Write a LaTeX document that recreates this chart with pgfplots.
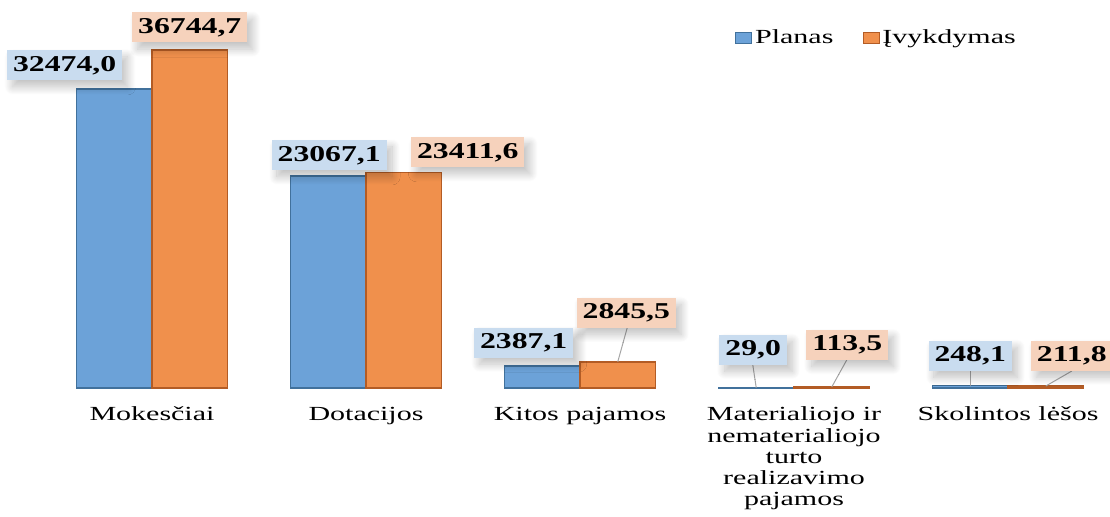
\documentclass[border=0pt]{standalone}
\usepackage{fontspec}
\setmainfont{Liberation Serif}
\newfontfamily\catfont[FakeStretch=1.5]{Liberation Serif}
\newfontfamily\lblfont[FakeStretch=1.4]{Liberation Serif}
\usepackage{pgfplots}
\usepackage{pgfplotstable}
\pgfplotsset{compat=1.18}
\usetikzlibrary{shadows.blur}
\definecolor{planfill}{HTML}{6CA2D8}
\definecolor{plandraw}{HTML}{41719C}
\definecolor{ivfill}{HTML}{F0904C}
\definecolor{ivdraw}{HTML}{B35C25}
\definecolor{planlbl}{HTML}{C9DCEF}
\definecolor{ivlbl}{HTML}{F6D2BC}

% dx, dy: label offsets in px from the category centre / bar top
\pgfplotstableread{
x y dx dy
0 32474.0 -87.3 24
1 23067.1 -36.8 20.5
2 2387.1 -56.3 23.5
3 29.0 -40.8 38
4 248.1 -37.8 30
}\planas
\pgfplotstableread{
x y dx dy
0 36744.7 37.8 22.5
1 23411.6 101.8 20.5
2 2845.5 46.3 49
3 113.5 53.3 42
4 211.8 63.8 30.5
}\ivyk

\pgfplotsset{
  lbl/.style={
    nodes near coords={\pgfmathprintnumber[fixed,fixed zerofill,precision=1,use comma,1000 sep={},assume math mode=true]{\pgfplotspointmeta}},
    point meta=y,
    visualization depends on={\thisrow{dx} \as \ldx},
    visualization depends on={\thisrow{dy} \as \ldy},
    every node near coord/.append style={anchor=center, xshift={\ldx*0.75pt}, yshift={\ldy*0.75pt},
      font=\lblfont\fontsize{17}{18}\selectfont\bfseries, fill=#1, text=black,
      inner xsep=4.5pt, inner ysep=3.75pt, text height=12pt, text depth=3pt,
      blur shadow={shadow xshift=4pt, shadow yshift=-5pt, shadow blur radius=6pt, shadow blur steps=20, shadow opacity=25}},
  }
}

\begin{document}
\begin{tikzpicture}
\useasboundingbox (0,0) rectangle (832.5pt,387.75pt);
\clip (0,0) rectangle (832.5pt,387.75pt);
\begin{axis}[
  at={(33.75pt,96.75pt)}, anchor=south west,
  scale only axis, width=802.5pt, height=291pt,
  xmin=-0.5, xmax=4.5, ymin=0, ymax=42174,
  axis line style={draw=none},
  ytick=\empty, xtick={0,1,2,3,4},
  xticklabels={Mokesčiai, Dotacijos, Kitos pajamos, {Materialiojo ir\\nematerialiojo\\turto\\realizavimo\\pajamos}, Skolintos lėšos},
  major tick length=0pt,
  xticklabel style={font=\catfont\fontsize{15}{15.9}\selectfont, align=center, anchor=north, inner sep=0pt, yshift=-14pt, text=black},
  clip=false,
  legend style={at={(rel axis cs:0.645,0.902)}, anchor=west, draw=none, fill=none,
    font=\catfont\fontsize{15}{16}\selectfont, inner sep=0pt,
    /tikz/every even column/.append style={column sep=20pt}},
  legend columns=2,
  legend image code/.code={\draw[#1, line width=0.75pt] (0pt,-4pt) rectangle (12pt,4pt);},
]
\addplot[ybar, bar width=0.353, bar shift=-0.1765, fill=planfill, draw=plandraw, line width=1.1pt, lbl=planlbl]
  table[x=x,y=y] {\planas};
\addplot[ybar, bar width=0.353, bar shift=0.1765, fill=ivfill, draw=ivdraw, line width=1.1pt, lbl=ivlbl]
  table[x=x,y=y] {\ivyk};
\legend{Planas, Įvykdymas}
\draw[gray!70, line width=0.75pt] (axis cs:2.1765,2845.5) -- ++(7.5pt,27pt);
\draw[gray!70, line width=0.75pt] (axis cs:2.8235,29) -- ++(-2.6pt,17.25pt);
\draw[gray!70, line width=0.75pt] (axis cs:3.1765,113.5) -- ++(11.25pt,20.25pt);
\draw[gray!70, line width=0.75pt] (axis cs:3.8235,248.1) -- ++(0pt,11.25pt);
\draw[gray!70, line width=0.75pt] (axis cs:4.1765,211.8) -- ++(19.5pt,11.25pt);
\end{axis}
\end{tikzpicture}
\end{document}
